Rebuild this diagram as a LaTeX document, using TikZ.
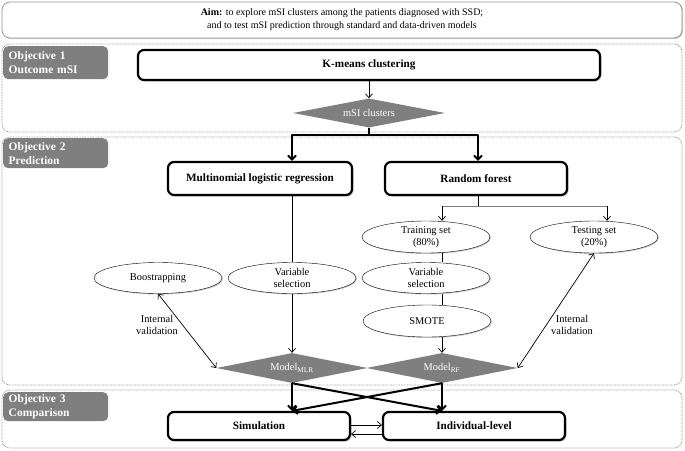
\documentclass[tikz,border=0pt]{standalone}
\usepackage{fontspec}
\setmainfont{Liberation Serif}
\usetikzlibrary{arrows.meta,shapes.geometric,shadows}
\definecolor{dgray}{RGB}{127,127,127}
\definecolor{pgray}{RGB}{150,150,150}
\begin{document}
\begin{tikzpicture}[x=1pt,y=-1pt,
  font=\fontsize{10.4}{12}\selectfont,
  panel/.style={draw=pgray, line width=0.8pt, dash pattern=on 0.8pt off 0.8pt, rounded corners=8pt},
  objlabel/.style={fill=dgray, rounded corners=5pt, text=white, anchor=north west,
    font=\fontsize{11.5}{14}\selectfont\bfseries, align=left, text width=94pt,
    minimum width=105pt, inner xsep=5pt, inner ysep=1pt},
  mainbox/.style={draw, line width=2.2pt, rounded corners=6pt, fill=white,
    font=\fontsize{11.2}{12}\selectfont\bfseries,
    drop shadow={shadow xshift=1.5pt, shadow yshift=-1.5pt, fill=gray!45, opacity=1}},
  gdiam/.style={diamond, aspect=5, fill=dgray, text=white, inner sep=0pt,
    minimum width=152pt, minimum height=29pt},
  oval/.style={ellipse, draw, fill=white, align=center, inner sep=0pt,
    minimum width=128pt, minimum height=32pt,
    drop shadow={shadow xshift=1pt, shadow yshift=-1pt, fill=gray!40, opacity=1}},
  thinarr/.style={line width=0.7pt, -{Straight Barb[length=4pt,width=7pt]}},
  dblarr/.style={line width=0.7pt, {Straight Barb[length=4pt,width=7pt]}-{Straight Barb[length=4pt,width=7pt]}},
  thinln/.style={line width=0.7pt},
  thickln/.style={line width=2pt},
  thickarr/.style={line width=2pt, -{Straight Barb[length=4pt,width=8pt]}},
  lbl/.style={align=center}
]
\useasboundingbox (0,0) rectangle (685,450);

% Aim
\node[draw=pgray, line width=0.8pt, rounded corners=8pt, fill=white,
  minimum width=680pt, minimum height=36pt, align=center, font=\fontsize{10}{13}\selectfont,
  drop shadow={shadow xshift=1pt, shadow yshift=-1pt, fill=gray!40, opacity=1}]
  (aim) at (342,20) {\textbf{Aim:} to explore mSI clusters among the patients diagnosed with SSD;\\
  and to test mSI prediction through standard and data-driven models};

% Panels
\draw[panel] (2,44) rectangle (682,132);
\draw[panel] (2,137) rectangle (682,385);
\draw[panel] (2,390) rectangle (682,448);

\node[objlabel, minimum height=33pt] (ob1) at (3,46) {Objective 1\\Outcome mSI};
\node[objlabel, minimum height=30pt] (ob2) at (3,138) {Objective 2\\Prediction};
\node[objlabel, minimum height=29pt] (ob3) at (3,392) {Objective 3\\Comparison};

% Objective 1
\node[mainbox, minimum width=462pt, minimum height=30pt] (km) at (369,65) {K-means clustering};
\node[gdiam] (msi) at (369,113) {mSI clusters};
\draw[thinarr] (km) -- (msi);

% Objective 2 boxes
\node[mainbox, minimum width=184pt, minimum height=33pt] (mlr) at (260,178.5) {Multinomial logistic regression};
\node[mainbox, minimum width=182pt, minimum height=33pt] (rf) at (476,178.5) {Random forest};

\coordinate (jm) at (369,135);
\coordinate (jl) at (292,135);
\coordinate (jr) at (478,135);
\draw[thickln] (msi.south) -- (jm);
\draw[thickarr, line join=round] (jm) -- (jl) -- (mlr.north -| jl);
\draw[thickarr, line join=round] (jm) -- (jr) -- (rf.north -| jr);

% Random forest branch
\node[oval] (train) at (426,237) {Training set\\(80\%)};
\node[oval] (test) at (594,237) {Testing set\\(20\%)};
\node[oval, minimum height=31pt] (vsr) at (426,278) {Variable\\selection};
\node[oval] (smote) at (427,321) {SMOTE};

\coordinate (rj) at (478,206);
\coordinate (tl) at (442,206);
\coordinate (tr) at (607,206);
\draw[thinln] (rf.south -| rj) -- (rj);
\draw[thinln, draw=gray] (tl) -- (tr);
\draw[thinarr] (tl) -- (train.north -| tl);
\draw[thinarr] (tr) -- (test.north -| tr);

% MLR branch
\node[oval, minimum height=31pt] (boot) at (158,278) {Boostrapping};
\node[oval, minimum height=31pt] (vsm) at (292,278) {Variable\\selection};

% Models
\node[gdiam, minimum width=151pt, minimum height=30pt] (mmlr) at (292,368) {Model\textsubscript{MLR}};
\node[gdiam, minimum width=151pt, minimum height=30pt] (mrf) at (442,368) {Model\textsubscript{RF}};

\draw[thinln] (mlr.south -| jl) -- (vsm.north);
\draw[thinarr] (vsm.south) -- (mmlr.north);
\draw[thinln] (train.south -| tl) -- (vsr.north -| tl);
\draw[thinln] (vsr.south -| tl) -- (smote.north -| tl);
\draw[thinarr] (smote.south -| tl) -- (mrf.north);

\draw[dblarr] (boot.south) -- (mmlr.west);
\draw[dblarr] (mrf.east) -- (test.south);
\node[lbl] (iv1) at (157,325) {Internal\\validation};
\node[lbl] (iv2) at (572,325) {Internal\\validation};

% Objective 3
\node[mainbox, minimum width=182pt, minimum height=28pt] (sim) at (259,426) {Simulation};
\node[mainbox, minimum width=182pt, minimum height=28pt] (ind) at (474,426) {Individual-level};

\draw[thickarr] (mmlr.south) -- (sim.north -| mmlr.south);
\draw[thickarr] (mmlr.south) -- (ind.north -| mrf.south);
\draw[thickarr] (mrf.south) -- (ind.north -| mrf.south);
\draw[thickarr] (mrf.south) -- (sim.north -| mmlr.south);

\draw[thinarr] ([yshift=1pt]sim.east) -- ([yshift=1pt]sim.east -| ind.west);
\draw[thinarr] ([yshift=-8pt]ind.west) -- ([yshift=-8pt]ind.west -| sim.east);
\end{tikzpicture}
\end{document}
